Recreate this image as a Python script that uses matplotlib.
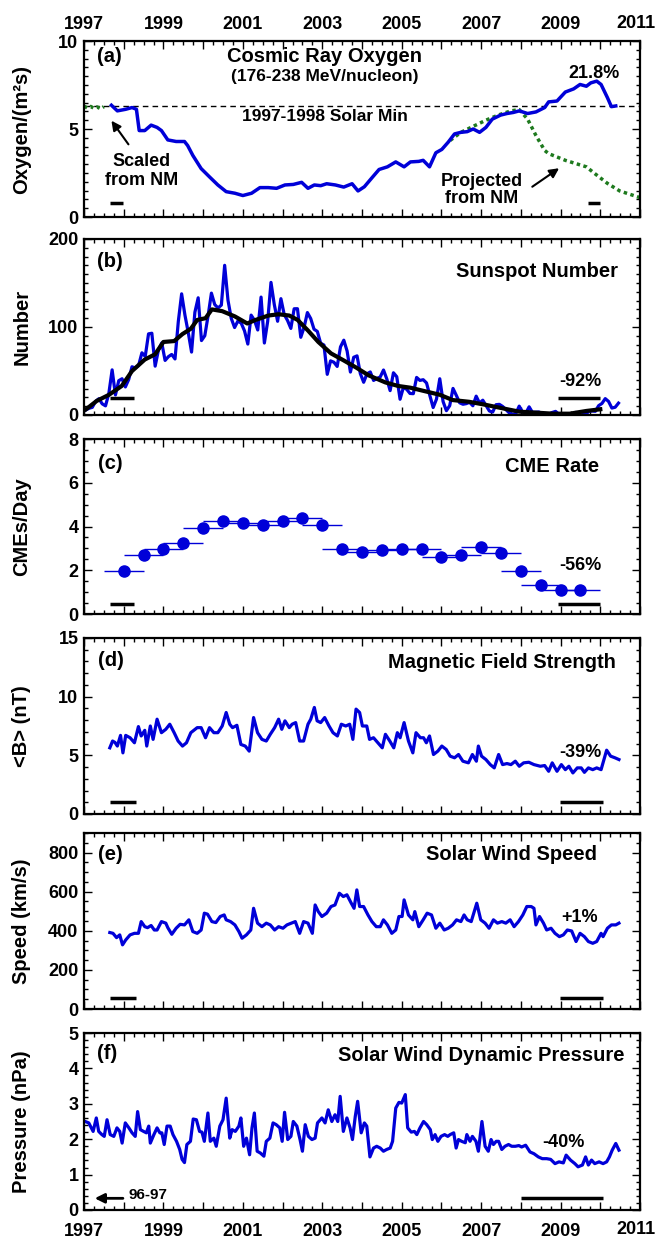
import matplotlib
matplotlib.use('Agg')
import matplotlib.pyplot as plt
from matplotlib.ticker import MultipleLocator, FuncFormatter

plt.rcParams['font.family'] = ['Liberation Sans', 'DejaVu Sans']
plt.rcParams['font.weight'] = 'bold'
plt.rcParams['axes.labelweight'] = 'bold'

BLUE = '#0000d8'
GREEN = '#1e7a1e'

# ---------------- data ----------------
# (a) cosmic ray oxygen
oxy_years = [1997.69, 1997.84, 1998.05, 1998.21, 1998.32, 1998.39, 1998.53, 1998.69, 1998.84, 1998.95,
             1999.11, 1999.32, 1999.53, 1999.61, 1999.74, 1999.95, 2000.16, 2000.37, 2000.58, 2000.80,
             2001.00, 2001.22, 2001.43, 2001.64, 2001.85, 2002.06, 2002.27, 2002.48, 2002.64, 2002.80,
             2002.96, 2003.11, 2003.33, 2003.54, 2003.75, 2003.90, 2004.06, 2004.27, 2004.43, 2004.64,
             2004.85, 2005.06, 2005.22, 2005.43, 2005.54, 2005.70, 2005.86, 2006.01, 2006.17, 2006.33,
             2006.49, 2006.65, 2006.80, 2006.96, 2007.12, 2007.28, 2007.49, 2007.65, 2007.81, 2007.96,
             2008.17, 2008.38, 2008.60, 2008.70, 2008.91, 2009.12, 2009.33, 2009.49, 2009.65, 2009.76,
             2009.91, 2010.02, 2010.18, 2010.28, 2010.39]
oxy_vals = [6.35, 6.03, 6.12, 6.22, 6.12, 4.91, 4.91, 5.22, 5.09, 4.91,
            4.38, 4.29, 4.29, 4.06, 3.50, 2.75, 2.28, 1.82, 1.44, 1.35,
            1.22, 1.35, 1.67, 1.67, 1.63, 1.82, 1.85, 1.97, 1.63, 1.82,
            1.78, 1.89, 1.82, 1.70, 1.89, 1.48, 1.72, 2.28, 2.70, 2.85,
            3.13, 2.85, 3.13, 3.16, 3.22, 2.85, 3.65, 3.84, 4.25, 4.72,
            4.81, 4.85, 5.00, 4.81, 5.09, 5.56, 5.79, 5.88, 5.94, 6.03,
            5.88, 5.97, 6.22, 6.54, 6.59, 7.10, 7.28, 7.53, 7.43, 7.62,
            7.72, 7.53, 6.78, 6.27, 6.31]
scaled_years = [1997.0, 1997.08, 1997.17, 1997.25, 1997.33, 1997.42, 1997.5]
scaled_vals = [6.30, 6.20, 6.28, 6.18, 6.25, 6.15, 6.27]
proj_years = [2006.22, 2006.49, 2006.80, 2007.12, 2007.44, 2007.75, 2007.96, 2008.17, 2008.38,
              2008.60, 2008.70, 2009.12, 2009.65, 2009.86, 2010.18, 2010.49, 2010.92, 2011.0]
proj_vals = [4.35, 4.81, 5.15, 5.50, 5.80, 6.03, 6.10, 5.56, 4.63,
             3.78, 3.60, 3.22, 2.85, 2.47, 1.91, 1.48, 1.16, 1.10]
solar_min_level = 6.31

# (b) monthly sunspot number, Jan 1997 - Jun 2010
ssn = [5.7, 7.6, 8.7, 15.5, 18.5, 12.7, 10.4, 24.4, 51.3, 22.8, 39.0, 41.2,
       31.9, 40.3, 54.8, 53.4, 56.3, 70.7, 66.6, 92.2, 92.9, 55.5, 74.0, 81.9,
       62.0, 66.3, 68.8, 63.7, 106.4, 137.7, 113.5, 93.7, 71.5, 116.7, 133.2, 84.6,
       90.1, 112.9, 138.5, 125.5, 121.6, 124.9, 170.1, 130.5, 109.7, 99.4, 106.8, 104.4,
       95.6, 80.6, 113.5, 107.7, 96.6, 134.0, 81.8, 106.4, 150.7, 125.5, 106.5, 132.2,
       114.1, 107.4, 98.4, 120.7, 120.8, 88.3, 99.6, 116.4, 109.6, 97.5, 95.0, 81.6,
       79.5, 46.2, 61.5, 60.0, 55.2, 77.4, 85.0, 72.7, 48.8, 65.6, 67.2, 47.0,
       37.2, 46.8, 48.9, 39.3, 41.5, 43.2, 51.1, 40.9, 27.7, 48.0, 43.5, 17.9,
       31.3, 29.2, 24.5, 24.2, 42.7, 39.3, 40.1, 36.4, 22.1, 8.5, 18.0, 41.2,
       15.3, 4.9, 10.6, 30.2, 22.3, 13.9, 12.2, 12.9, 14.4, 10.5, 21.4, 13.6,
       16.8, 10.7, 4.5, 3.4, 11.7, 12.1, 9.7, 6.0, 2.4, 0.9, 1.7, 10.1,
       3.3, 2.1, 9.3, 2.9, 3.2, 3.4, 0.5, 0.5, 1.1, 2.9, 4.1, 0.8,
       1.5, 1.4, 0.7, 1.2, 2.9, 2.6, 3.5, 0.0, 4.2, 4.6, 4.2, 10.6,
       13.1, 18.6, 15.4, 7.9, 8.8, 13.5]
ssn_years = [1997 + (i + 0.5) / 12 for i in range(len(ssn))]
smooth_years = [1997.05, 1997.32, 1997.63, 1997.95, 1998.21, 1998.53, 1998.79, 1999.0, 1999.27,
                1999.48, 1999.69, 1999.85, 2000.06, 2000.22, 2000.48, 2000.8, 2001.11, 2001.32,
                2001.64, 2001.9, 2002.17, 2002.38, 2002.64, 2002.9, 2003.22, 2003.54, 2003.85,
                2004.17, 2004.59, 2004.91, 2005.22, 2005.54, 2005.96, 2006.28, 2006.7, 2007.12,
                2007.54, 2007.96, 2008.38, 2008.81, 2009.23, 2009.65, 2010.0]
smooth_vals = [6.5, 16, 23, 33, 50, 63, 69, 83, 84,
               92, 98, 108, 110, 120, 118, 112, 104, 108,
               113, 114.5, 113, 108, 96, 83, 70, 62, 54,
               45, 37, 33, 31, 27.5, 23, 17, 15, 11.5,
               7.6, 3.8, 2.7, 1.5, 1.5, 4.6, 6.5]

# (c) CME rate, one-year bins
cme_years = [1998.0, 1998.5, 1999.0, 1999.5, 2000.0, 2000.5, 2001.0, 2001.5, 2002.0, 2002.5,
             2003.0, 2003.5, 2004.0, 2004.5, 2005.0, 2005.5, 2006.0, 2006.5, 2007.0, 2007.5,
             2008.0, 2008.5, 2009.0, 2009.5]
cme_rate = [1.98, 2.68, 2.98, 3.24, 3.92, 4.26, 4.15, 4.08, 4.23, 4.38,
            4.08, 2.97, 2.83, 2.94, 2.98, 2.97, 2.59, 2.71, 3.06, 2.78,
            1.98, 1.31, 1.08, 1.11]

# (d) magnetic field strength
b_years = [1997.65, 1997.72, 1997.78, 1997.84, 1997.92, 1997.98, 1998.05, 1998.16, 1998.27, 1998.37,
           1998.44, 1998.53, 1998.58, 1998.67, 1998.74, 1998.84, 1998.95, 1999.06, 1999.16, 1999.27,
           1999.37, 1999.48, 1999.58, 1999.69, 1999.85, 1999.95, 2000.06, 2000.16, 2000.27, 2000.37,
           2000.48, 2000.58, 2000.67, 2000.74, 2000.85, 2000.95, 2001.06, 2001.16, 2001.27, 2001.37,
           2001.48, 2001.59, 2001.69, 2001.80, 2001.90, 2001.98, 2002.06, 2002.17, 2002.24, 2002.33,
           2002.43, 2002.53, 2002.64, 2002.71, 2002.80, 2002.87, 2002.96, 2003.06, 2003.17, 2003.27,
           2003.38, 2003.48, 2003.59, 2003.69, 2003.77, 2003.85, 2003.94, 2004.01, 2004.12, 2004.19,
           2004.29, 2004.40, 2004.51, 2004.59, 2004.70, 2004.80, 2004.89, 2004.96, 2005.06, 2005.17,
           2005.28, 2005.36, 2005.47, 2005.55, 2005.62, 2005.70, 2005.80, 2005.91, 2006.01, 2006.12,
           2006.22, 2006.33, 2006.43, 2006.54, 2006.68, 2006.78, 2006.88, 2006.93, 2007.01, 2007.12,
           2007.23, 2007.33, 2007.44, 2007.54, 2007.65, 2007.75, 2007.86, 2007.96, 2008.07, 2008.20,
           2008.33, 2008.49, 2008.60, 2008.70, 2008.79, 2008.91, 2009.02, 2009.12, 2009.21, 2009.31,
           2009.42, 2009.52, 2009.60, 2009.70, 2009.81, 2009.91, 2010.02, 2010.16, 2010.26, 2010.37,
           2010.47]
b_vals = [5.64, 6.22, 6.10, 5.79, 6.70, 5.21, 6.70, 6.50, 6.07, 7.45,
          6.65, 7.13, 5.79, 7.50, 6.36, 8.08, 6.93, 7.22, 7.65, 6.93,
          6.22, 5.79, 6.07, 6.93, 7.36, 7.36, 6.50, 7.36, 6.93, 6.93,
          7.50, 8.65, 7.65, 7.36, 7.56, 5.93, 5.79, 5.36, 8.22, 6.93,
          6.36, 6.22, 6.79, 7.36, 8.08, 7.22, 7.94, 7.36, 7.65, 7.79,
          6.22, 6.22, 7.65, 8.08, 9.08, 7.94, 7.79, 8.22, 7.50, 6.93,
          6.65, 7.65, 7.50, 7.65, 6.36, 8.94, 8.65, 7.50, 7.50, 6.36,
          6.50, 6.07, 5.64, 6.79, 6.22, 5.64, 6.93, 6.50, 7.79, 6.22,
          5.21, 6.93, 6.50, 6.50, 6.07, 6.65, 5.07, 5.36, 5.79, 5.50,
          4.93, 4.79, 5.07, 4.50, 4.36, 5.07, 4.50, 5.79, 4.93, 4.64,
          4.21, 3.93, 5.07, 4.21, 4.30, 4.21, 4.50, 4.07, 4.36, 4.41,
          4.21, 4.07, 4.13, 3.64, 4.36, 3.64, 4.21, 3.78, 4.07, 3.50,
          3.93, 3.93, 3.55, 3.93, 3.78, 3.93, 3.78, 5.44, 4.93, 4.79,
          4.64]

# (e) solar wind speed
v_years = [1997.65, 1997.73, 1997.82, 1997.90, 1997.97, 1998.05, 1998.16, 1998.27, 1998.37, 1998.44,
           1998.53, 1998.60, 1998.69, 1998.77, 1998.84, 1998.95, 1999.06, 1999.11, 1999.21, 1999.32,
           1999.42, 1999.53, 1999.64, 1999.74, 1999.85, 1999.95, 2000.03, 2000.11, 2000.22, 2000.32,
           2000.43, 2000.53, 2000.58, 2000.69, 2000.80, 2000.90, 2000.98, 2001.09, 2001.20, 2001.27,
           2001.37, 2001.48, 2001.59, 2001.69, 2001.80, 2001.90, 2002.01, 2002.11, 2002.22, 2002.32,
           2002.43, 2002.53, 2002.64, 2002.75, 2002.82, 2002.90, 2002.99, 2003.11, 2003.22, 2003.32,
           2003.43, 2003.53, 2003.62, 2003.73, 2003.80, 2003.87, 2003.94, 2004.04, 2004.15, 2004.25,
           2004.36, 2004.46, 2004.54, 2004.64, 2004.75, 2004.85, 2004.93, 2005.01, 2005.06, 2005.17,
           2005.28, 2005.33, 2005.43, 2005.54, 2005.64, 2005.75, 2005.86, 2005.96, 2006.07, 2006.17,
           2006.28, 2006.38, 2006.49, 2006.57, 2006.65, 2006.75, 2006.89, 2006.99, 2007.10, 2007.20,
           2007.31, 2007.41, 2007.52, 2007.62, 2007.73, 2007.83, 2007.94, 2008.05, 2008.15, 2008.26,
           2008.33, 2008.38, 2008.47, 2008.57, 2008.65, 2008.76, 2008.86, 2008.97, 2009.07, 2009.17,
           2009.28, 2009.39, 2009.49, 2009.60, 2009.70, 2009.81, 2009.91, 2010.02, 2010.07, 2010.18,
           2010.28, 2010.39, 2010.47]
v_vals = [391, 387, 365, 379, 328, 353, 379, 387, 387, 447,
          421, 416, 427, 404, 404, 447, 439, 416, 382, 413,
          433, 430, 456, 396, 387, 404, 490, 485, 447, 442,
          473, 481, 456, 447, 430, 396, 362, 379, 404, 515,
          439, 421, 439, 430, 404, 421, 413, 430, 439, 447,
          387, 447, 439, 387, 532, 498, 473, 490, 524, 532,
          592, 575, 584, 541, 515, 609, 524, 524, 481, 447,
          421, 421, 456, 430, 387, 404, 473, 473, 558, 481,
          456, 498, 421, 456, 490, 481, 413, 439, 404, 413,
          430, 456, 447, 481, 456, 447, 541, 456, 439, 413,
          456, 439, 447, 439, 456, 421, 447, 481, 524, 524,
          515, 430, 473, 439, 404, 413, 387, 370, 379, 404,
          399, 345, 387, 370, 345, 336, 345, 387, 370, 413,
          430, 430, 439]

# (f) solar wind dynamic pressure
p_years = [1997.03, 1997.12, 1997.23, 1997.31, 1997.37, 1997.45, 1997.51, 1997.58, 1997.66, 1997.75,
           1997.83, 1997.90, 1997.96, 1998.04, 1998.13, 1998.21, 1998.29, 1998.35, 1998.42, 1998.50,
           1998.57, 1998.63, 1998.67, 1998.76, 1998.84, 1998.91, 1998.96, 1999.02, 1999.09, 1999.17,
           1999.24, 1999.33, 1999.41, 1999.47, 1999.53, 1999.59, 1999.68, 1999.75, 1999.83, 1999.91,
           1999.97, 2000.03, 2000.12, 2000.18, 2000.27, 2000.33, 2000.42, 2000.50, 2000.58, 2000.67,
           2000.73, 2000.81, 2000.90, 2000.95, 2001.02, 2001.09, 2001.17, 2001.23, 2001.29, 2001.36,
           2001.44, 2001.53, 2001.59, 2001.68, 2001.76, 2001.84, 2001.93, 2001.99, 2002.05, 2002.13,
           2002.21, 2002.27, 2002.36, 2002.44, 2002.50, 2002.57, 2002.65, 2002.74, 2002.82, 2002.88,
           2002.99, 2003.07, 2003.15, 2003.24, 2003.32, 2003.39, 2003.45, 2003.53, 2003.62, 2003.70,
           2003.76, 2003.83, 2003.89, 2003.98, 2004.06, 2004.12, 2004.20, 2004.29, 2004.37, 2004.46,
           2004.54, 2004.62, 2004.71, 2004.77, 2004.85, 2004.93, 2005.00, 2005.09, 2005.15, 2005.24,
           2005.32, 2005.38, 2005.46, 2005.55, 2005.63, 2005.72, 2005.77, 2005.84, 2005.91, 2005.99,
           2006.08, 2006.16, 2006.22, 2006.31, 2006.37, 2006.43, 2006.51, 2006.60, 2006.64, 2006.72,
           2006.78, 2006.87, 2006.93, 2007.02, 2007.10, 2007.18, 2007.25, 2007.31, 2007.38, 2007.44,
           2007.52, 2007.60, 2007.69, 2007.77, 2007.86, 2007.95, 2008.02, 2008.12, 2008.23, 2008.33,
           2008.44, 2008.54, 2008.65, 2008.75, 2008.86, 2008.96, 2009.07, 2009.14, 2009.25, 2009.36,
           2009.44, 2009.55, 2009.63, 2009.70, 2009.78, 2009.86, 2009.97, 2010.07, 2010.16, 2010.23,
           2010.30, 2010.39, 2010.47]
p_vals = [2.50, 2.46, 2.22, 2.60, 2.22, 2.13, 2.08, 2.55, 2.13, 2.08,
          2.32, 2.22, 1.89, 2.46, 2.32, 2.18, 2.08, 2.78, 2.27, 2.22,
          2.18, 2.37, 1.89, 2.13, 2.32, 2.18, 2.18, 1.85, 2.37, 2.37,
          2.13, 1.94, 1.71, 1.43, 1.34, 1.85, 1.94, 2.57, 2.55, 2.22,
          2.20, 1.94, 2.74, 1.94, 2.03, 1.80, 2.37, 2.55, 3.16, 2.03,
          2.27, 2.22, 2.37, 2.60, 1.80, 2.03, 1.56, 2.32, 2.74, 1.66,
          1.61, 1.52, 1.94, 2.03, 2.46, 2.41, 2.32, 1.94, 2.76, 1.99,
          2.08, 2.50, 2.37, 1.99, 1.66, 2.41, 2.08, 1.99, 2.03, 2.46,
          2.60, 2.46, 2.83, 2.50, 2.69, 2.50, 3.21, 2.22, 2.60, 2.32,
          1.99, 2.64, 3.07, 2.18, 2.46, 2.37, 1.50, 1.75, 1.80, 1.75,
          1.66, 1.71, 1.75, 1.94, 2.88, 3.04, 3.02, 3.26, 2.32, 2.20,
          2.22, 2.13, 2.32, 2.50, 2.41, 2.27, 1.99, 2.13, 1.94, 2.08,
          2.13, 2.08, 2.13, 2.18, 1.75, 1.99, 1.94, 1.90, 2.13, 1.94,
          2.08, 1.94, 1.66, 2.50, 1.80, 1.66, 1.99, 1.85, 1.94, 1.94,
          1.71, 1.80, 1.85, 1.80, 1.80, 1.82, 1.78, 1.83, 1.64, 1.59,
          1.50, 1.45, 1.45, 1.43, 1.31, 1.36, 1.33, 1.55, 1.41, 1.31,
          1.22, 1.27, 1.50, 1.27, 1.41, 1.31, 1.36, 1.31, 1.36, 1.50,
          1.69, 1.88, 1.69]

# averaging periods drawn as black bars (start, end)
min_period_a = [(1997.65, 1997.97), (2009.68, 2009.99)]
min_period_bc = [(1997.65, 1998.27), (2008.94, 2009.99)]
min_period_de = [(1997.65, 1998.32), (2008.99, 2010.06)]
min_period_f = [(2008.0, 2010.07)]

# ---------------- figure ----------------
W, H = 657, 1239
fig = plt.figure(figsize=(W / 100, H / 100), dpi=100)

# panel top/bottom edges in pixels
panel_px = [(41, 217), (239, 415), (439, 614), (638, 814), (833, 1009), (1033, 1210)]
axes = []
for top, bot in panel_px:
    ax = fig.add_axes([84 / W, 1 - bot / H, 556 / W, (bot - top) / H])
    axes.append(ax)


def year_label(x, pos):
    # odd years only; 2011 is placed by hand so it stays inside the image
    y = int(round(x))
    return str(y) if (y % 2 == 1 and y != 2011) else ''


def style(ax, ymax, ymajor, yminor, ylabel):
    ax.set_xlim(1997, 2011)
    ax.set_ylim(0, ymax)
    ax.xaxis.set_major_locator(MultipleLocator(1))
    ax.xaxis.set_minor_locator(MultipleLocator(0.25))
    ax.xaxis.set_major_formatter(FuncFormatter(year_label))
    ax.yaxis.set_major_locator(MultipleLocator(ymajor))
    ax.yaxis.set_minor_locator(MultipleLocator(yminor))
    ax.tick_params(which='both', direction='in', top=True, right=True,
                   labelbottom=False, labelsize=13, width=1)
    ax.tick_params(which='major', length=6)
    ax.tick_params(which='minor', length=3)
    ax.tick_params(axis='y', pad=4)
    ax.tick_params(axis='x', pad=9)
    for s in ax.spines.values():
        s.set_linewidth(1.6)
    for lab in ax.get_xticklabels() + ax.get_yticklabels():
        lab.set_fontweight('bold')
    ax.set_ylabel(ylabel, fontsize=14.5, fontweight='bold')
    ax.yaxis.set_label_coords(-0.095, 0.5)


def bars(ax, periods, y):
    for x0, x1 in periods:
        ax.plot([x0, x1], [y, y], color='k', lw=2.5, solid_capstyle='butt')


TFS = 14.5  # panel title size

# (a) oxygen
ax = axes[0]
style(ax, 10, 5, 0.5, 'Oxygen/(m²s)')
ax.tick_params(axis='x', labeltop=True, pad=6)
ax.axhline(solar_min_level, color='k', lw=1, ls=(0, (4, 3)))
ax.plot(scaled_years, scaled_vals, color=GREEN, lw=2.5, ls=(0, (1, 1)))
ax.plot(proj_years, proj_vals, color=GREEN, lw=2.5, ls=(0, (1, 1)))
ax.plot(oxy_years, oxy_vals, color=BLUE, lw=2.5)
bars(ax, min_period_a, 0.8)
ax.text(1997.32, 9.12, '(a)', fontsize=TFS, va='center')
ax.text(2003.06, 9.12, 'Cosmic Ray Oxygen', fontsize=TFS, ha='center', va='center')
ax.text(2003.06, 8.0, '(176-238 MeV/nucleon)', fontsize=12.5, ha='center', va='center')
ax.text(2003.06, 5.71, '1997-1998 Solar Min', fontsize=12.5, ha='center', va='center')
ax.text(2009.84, 8.18, '21.8%', fontsize=13, ha='center', va='center')
ax.text(1998.45, 3.14, 'Scaled', fontsize=13, ha='center', va='center')
ax.text(1998.45, 2.1, 'from NM', fontsize=13, ha='center', va='center')
ax.annotate('', xy=(1997.65, 5.6), xytext=(1998.16, 4.0),
            arrowprops=dict(arrowstyle='-|>', color='k', lw=1.5, mutation_scale=14))
ax.text(2007.02, 2.0, 'Projected', fontsize=13, ha='center', va='center')
ax.text(2007.02, 1.06, 'from NM', fontsize=13, ha='center', va='center')
ax.annotate('', xy=(2009.02, 2.86), xytext=(2008.23, 1.63),
            arrowprops=dict(arrowstyle='-|>', color='k', lw=1.5, mutation_scale=14))

# (b) sunspots
ax = axes[1]
style(ax, 200, 100, 10, 'Number')
ax.plot(ssn_years, ssn, color=BLUE, lw=2.3)
ax.plot(smooth_years, smooth_vals, color='k', lw=3)
bars(ax, min_period_bc, 19)
ax.text(1997.32, 174, '(b)', fontsize=TFS, va='center')
ax.text(2010.44, 163, 'Sunspot Number', fontsize=TFS, ha='right', va='center')
ax.text(2009.49, 38, '-92%', fontsize=13, ha='center', va='center')

# (c) CME rate
ax = axes[2]
style(ax, 8, 2, 0.5, 'CMEs/Day')
ax.errorbar(cme_years, cme_rate, xerr=0.5, fmt='o', color=BLUE, ms=8,
            elinewidth=1, capsize=0)
bars(ax, min_period_bc, 0.47)
ax.text(1997.35, 6.89, '(c)', fontsize=TFS, va='center')
ax.text(2009.97, 6.74, 'CME Rate', fontsize=TFS, ha='right', va='center')
ax.text(2009.49, 2.22, '-56%', fontsize=13, ha='center', va='center')

# (d) magnetic field
ax = axes[3]
style(ax, 15, 5, 1, '<B> (nT)')
ax.plot(b_years, b_vals, color=BLUE, lw=2.3)
bars(ax, min_period_de, 1.03)
ax.text(1997.35, 13.1, '(d)', fontsize=TFS, va='center')
ax.text(2010.39, 12.95, 'Magnetic Field Strength', fontsize=TFS, ha='right', va='center')
ax.text(2009.49, 5.2, '-39%', fontsize=13, ha='center', va='center')

# (e) solar wind speed
ax = axes[4]
style(ax, 900, 200, 50, 'Speed (km/s)')
ax.plot(v_years, v_vals, color=BLUE, lw=2.3)
bars(ax, min_period_de, 58)
ax.text(1997.35, 788, '(e)', fontsize=TFS, va='center')
ax.text(2009.91, 788, 'Solar Wind Speed', fontsize=TFS, ha='right', va='center')
ax.text(2009.49, 468, '+1%', fontsize=13, ha='center', va='center')

# (f) dynamic pressure
ax = axes[5]
style(ax, 5, 1, 0.2, 'Pressure (nPa)')
ax.tick_params(labelbottom=True)
ax.plot(p_years, p_vals, color=BLUE, lw=2.3)
bars(ax, min_period_f, 0.33)
ax.annotate('', xy=(1997.2, 0.33), xytext=(1998.05, 0.33),
            arrowprops=dict(arrowstyle='-|>', color='k', lw=2, mutation_scale=14))
ax.text(1998.12, 0.42, '96-97', fontsize=11, ha='left', va='center')
ax.text(1997.32, 4.41, '(f)', fontsize=TFS, va='center')
ax.text(2010.6, 4.36, 'Solar Wind Dynamic Pressure', fontsize=TFS, ha='right', va='center')
ax.text(2009.07, 1.92, '-40%', fontsize=13, ha='center', va='center')

# last year label, nudged left so it is not clipped by the image edge
fig.text(636 / W, 1 - 23 / H, '2011', fontsize=13, fontweight='bold', ha='center', va='center')
fig.text(636 / W, 1 - 1230 / H, '2011', fontsize=13, fontweight='bold', ha='center', va='center')

fig.savefig('out.png', dpi=100)
